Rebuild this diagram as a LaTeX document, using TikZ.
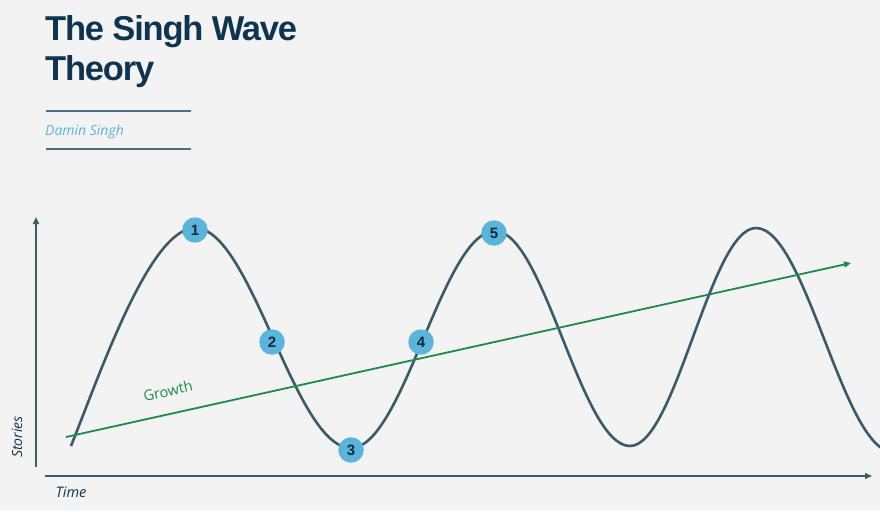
\documentclass[tikz,border=0pt]{standalone}
\usepackage{fontspec}
\setmainfont{Liberation Sans}
\newfontfamily\titlefont[LetterSpace=-3.5]{Liberation Sans}
\newfontfamily\numfont{Liberation Sans}
\newfontfamily\labelfont{Open Sans}
\usetikzlibrary{arrows.meta}
\definecolor{bgc}{HTML}{F3F3F3}
\definecolor{navy}{HTML}{0E3450}
\definecolor{rulec}{HTML}{4E6D7E}
\definecolor{wavec}{HTML}{3C5A6A}
\definecolor{axisc}{HTML}{3D5B6B}
\definecolor{growc}{HTML}{1F8A4C}
\definecolor{bubc}{HTML}{5AB4DB}
\definecolor{numc}{HTML}{0F2A3A}
\definecolor{authc}{HTML}{5BB4D9}
\tikzset{
  axisline/.style={draw=axisc, line width=1.8pt, -{Triangle[length=7pt,width=6pt]}},
  wave/.style={draw=wavec, line width=2.6pt},
  growline/.style={draw=growc, line width=1.8pt, -{Triangle[length=7pt,width=6pt]}},
  bubble/.style={circle, fill=bubc, minimum size=25.5pt, inner sep=0pt, text=numc, font=\numfont\bfseries\fontsize{15}{15}\selectfont},
  rulestyle/.style={draw=rulec, line width=1.5pt},
  titletext/.style={anchor=base west, inner sep=0pt, text=navy, font=\titlefont\bfseries\fontsize{34.5}{38}\selectfont},
  axlabel/.style={text=navy, font=\labelfont\itshape\fontsize{14}{14}\selectfont, inner sep=0pt}
}
\begin{document}
\begin{tikzpicture}[x=1pt,y=-1pt]
\useasboundingbox (0,0) rectangle (880,511);
\fill[bgc] (0,0) rectangle (880,511);
% title
\node[titletext] (title1) at (45,41) {The Singh Wave};
\node[titletext] (title2) at (45,80) {Theory};
\coordinate (r1a) at (46,111); \coordinate (r1b) at (191,111);
\coordinate (r2a) at (46,149); \coordinate (r2b) at (191,149);
\draw[rulestyle] (r1a) -- (r1b);
\draw[rulestyle] (r2a) -- (r2b);
\node[anchor=base west, inner sep=0pt, text=authc, font=\labelfont\itshape\fontsize{14}{14}\selectfont] (author) at (45,135) {Damin Singh};
% axes
\coordinate (o1) at (36,467); \coordinate (ytop) at (36,217);
\coordinate (o2) at (45,476); \coordinate (xend) at (872,476);
\draw[axisline] (o1) -- (ytop);
\draw[axisline] (o2) -- (xend);
\node[axlabel, rotate=90] (stories) at (17,437) {Stories};
\node[axlabel, font=\labelfont\itshape\fontsize{14.5}{14}\selectfont] (time) at (71,492) {Time};
% wave
\begin{scope}
\clip (0,0) rectangle (880,511);
\draw[wave] (71,446) .. controls (101,371) and (150,228) .. (195,228)
  .. controls (251.6,228) and (294.4,448) .. (351,448)
  .. controls (403.3,448) and (442.7,231) .. (495,231)
  .. controls (544,231) and (581,446) .. (630,446)
  .. controls (675.7,446) and (710.3,228) .. (756,228)
  .. controls (805.7,228) and (843.3,452) .. (893,452);
\end{scope}
% growth
\coordinate (g0) at (66,437); \coordinate (g1) at (851,263);
\draw[growline] (g0) -- (g1);
\node[text=growc, font=\labelfont\fontsize{14.5}{14}\selectfont, rotate=12.5, inner sep=0pt] (growth) at (168,391) {Growth};
% bubbles
\node[bubble] (b1) at (195,230) {1};
\node[bubble] (b2) at (272,342) {2};
\node[bubble] (b3) at (351,450) {3};
\node[bubble] (b4) at (421,342) {4};
\node[bubble] (b5) at (494,233) {5};
\end{tikzpicture}
\end{document}
